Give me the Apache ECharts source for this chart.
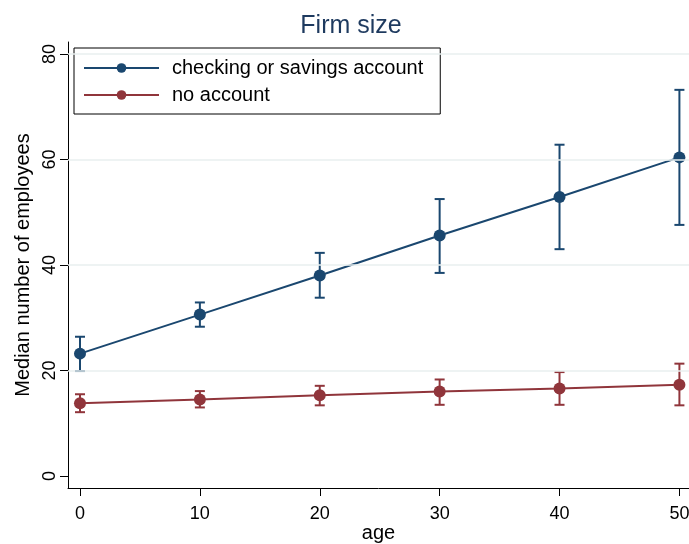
<!DOCTYPE html>
<html>
<head>
<meta charset="utf-8">
<script src="https://cdn.jsdelivr.net/npm/echarts@6/dist/echarts.min.js"></script>
<style>html,body{margin:0;padding:0;background:#fff}#c{width:689px;height:544px}</style>
</head>
<body>
<div id="c"></div>
<script>
const ages = [0, 10, 20, 30, 40, 50];
const accountMedian = [23.2, 30.6, 38.0, 45.6, 52.9, 60.4];
const accountLow = [19.9, 28.3, 33.8, 38.5, 43.0, 47.6];
const accountHigh = [26.4, 32.9, 42.3, 52.5, 62.8, 73.2];
const noAccountMedian = [13.8, 14.5, 15.3, 16.0, 16.6, 17.3];
const noAccountLow = [12.1, 13.0, 13.4, 13.5, 13.5, 13.4];
const noAccountHigh = [15.5, 16.1, 17.1, 18.3, 19.7, 21.3];
const xTicks = [0, 10, 20, 30, 40, 50];
const yTicks = [0, 20, 40, 60, 80];
const gridValues = [20, 40, 60, 80];

const BLUE = '#1a476f', RED = '#90353b';
const FONT = 'Liberation Sans, Arial, sans-serif';

function errBar(color) {
  return function (params, api) {
    const x = api.value(0);
    const lo = api.coord([x, api.value(1)]);
    const hi = api.coord([x, api.value(2)]);
    const h = 5;
    const st = { stroke: color, lineWidth: 2, fill: null };
    return {
      type: 'group',
      children: [
        { type: 'line', shape: { x1: lo[0], y1: lo[1], x2: hi[0], y2: hi[1] }, style: st },
        { type: 'line', shape: { x1: lo[0] - h, y1: lo[1], x2: lo[0] + h, y2: lo[1] }, style: st },
        { type: 'line', shape: { x1: hi[0] - h, y1: hi[1], x2: hi[0] + h, y2: hi[1] }, style: st }
      ]
    };
  };
}

const chart = echarts.init(document.getElementById('c'), null, { renderer: 'canvas' });
chart.setOption({
  animation: false,
  backgroundColor: '#fff',
  textStyle: { fontFamily: FONT },
  title: {
    text: 'Firm size', left: 346, top: 9, textAlign: 'center',
    textStyle: { fontFamily: FONT, fontSize: 25, fontWeight: 'normal', color: '#1e3a5f' }
  },
  legend: {
    data: ['checking or savings account', 'no account'],
    orient: 'vertical', left: 74, top: 48,
    backgroundColor: '#fff', borderColor: '#000', borderWidth: 1,
    padding: [10, 17, 9, 9], itemGap: 7, itemWidth: 75, itemHeight: 12,
    textStyle: { fontFamily: FONT, fontSize: 20, color: '#000', padding: [0, 0, 0, 8] }
  },
  grid: { left: 68, right: 0, top: 42, bottom: 56, containLabel: false, outerBoundsMode: 'none' },
  xAxis: {
    type: 'value', min: -1, max: 50.8,
    name: 'age', nameLocation: 'middle', nameGap: 35, nameMoveOverlap: false,
    nameTextStyle: { fontFamily: FONT, fontSize: 20, color: '#000' },
    axisLine: { show: true, onZero: false, lineStyle: { color: '#000', width: 1 } },
    axisTick: { show: true, length: 8, customValues: xTicks, lineStyle: { color: '#000' } },
    axisLabel: { customValues: xTicks, fontSize: 18, color: '#000', margin: 17, fontFamily: FONT },
    splitLine: { show: false }
  },
  yAxis: {
    type: 'value', min: -2.27, max: 82.27,
    name: 'Median number of employees', nameLocation: 'middle', nameGap: 35, nameMoveOverlap: false,
    nameTextStyle: { fontFamily: FONT, fontSize: 20, color: '#000' },
    axisLine: { show: true, onZero: false, lineStyle: { color: '#000', width: 1 } },
    axisTick: { show: true, length: 8, customValues: yTicks, lineStyle: { color: '#000' } },
    axisLabel: { customValues: yTicks, rotate: 90, fontSize: 18, color: '#000', margin: 9, fontFamily: FONT },
    splitLine: { show: false }
  },
  series: [
    {
      name: 'grid', type: 'line', data: [], silent: true,
      markLine: {
        silent: true, symbol: 'none', label: { show: false },
        lineStyle: { color: '#e8efef', width: 1.5, type: 'solid' },
        data: gridValues.map(v => ({ yAxis: v }))
      }
    },
    {
      name: 'ci1', type: 'custom', renderItem: errBar(BLUE), z: 2,
      data: ages.map((a, i) => [a, accountLow[i], accountHigh[i]])
    },
    {
      name: 'ci2', type: 'custom', renderItem: errBar(RED), z: 2,
      data: ages.map((a, i) => [a, noAccountLow[i], noAccountHigh[i]])
    },
    {
      name: 'checking or savings account', type: 'line', z: 3,
      data: ages.map((a, i) => [a, accountMedian[i]]),
      symbol: 'circle', symbolSize: 12, showSymbol: true,
      lineStyle: { color: BLUE, width: 2 }, itemStyle: { color: BLUE }
    },
    {
      name: 'no account', type: 'line', z: 3,
      data: ages.map((a, i) => [a, noAccountMedian[i]]),
      symbol: 'circle', symbolSize: 12, showSymbol: true,
      lineStyle: { color: RED, width: 2 }, itemStyle: { color: RED }
    }
  ]
});
</script>
</body>
</html>
